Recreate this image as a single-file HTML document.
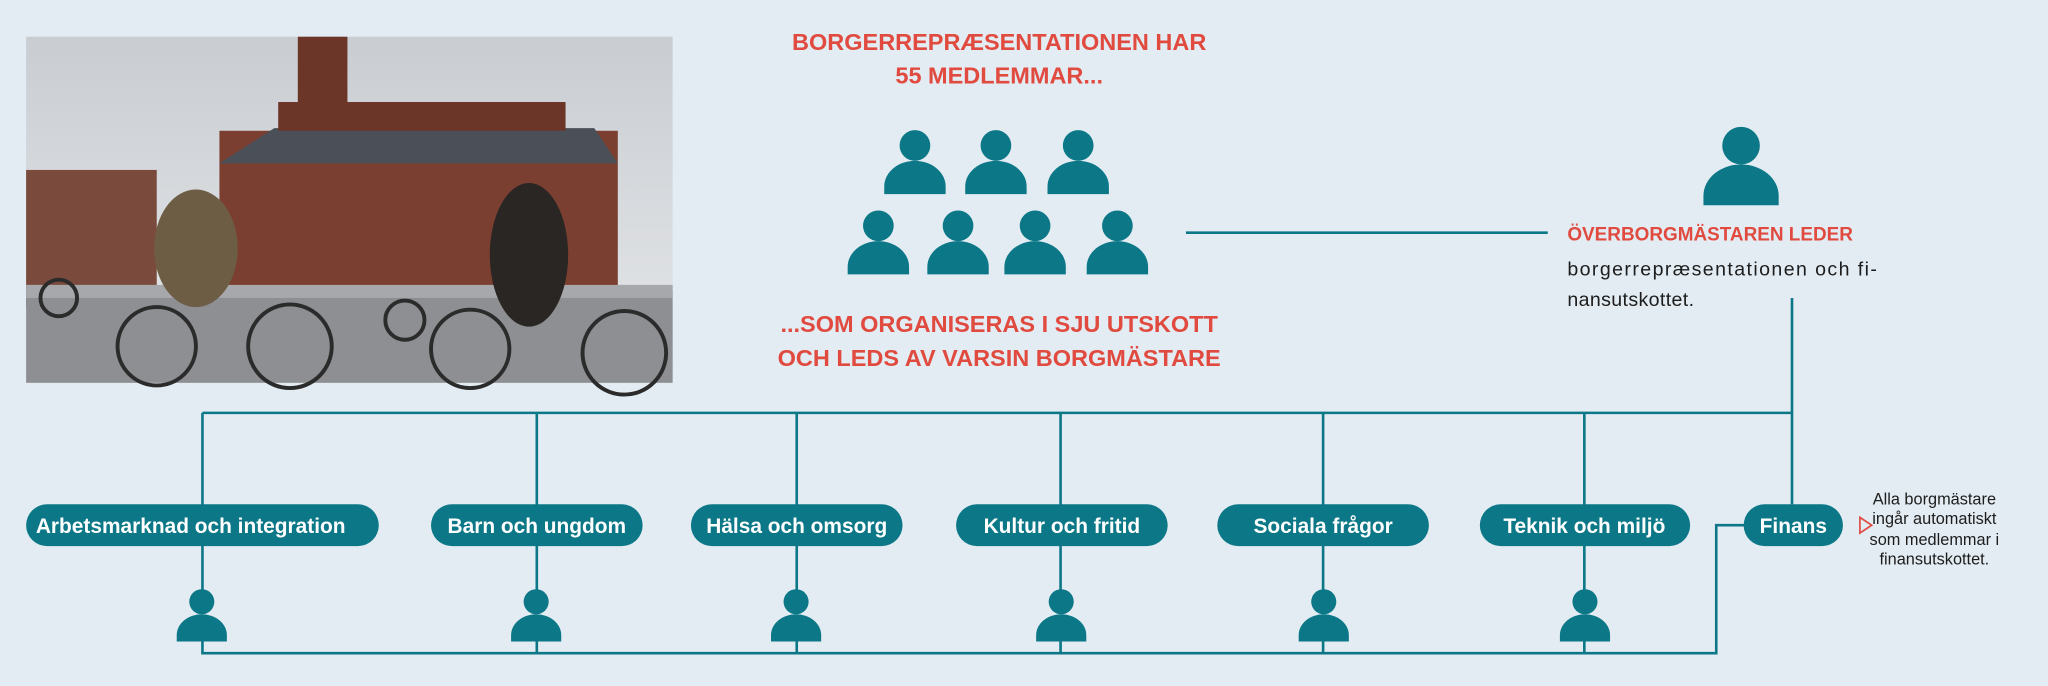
<!DOCTYPE html>
<html><head><meta charset="utf-8"><style>
html,body{margin:0;padding:0;background:#e3ecf2;}
svg{display:block;}
text{font-family:"Liberation Sans",sans-serif;}
</style></head><body>
<svg width="2048" height="686" viewBox="0 0 1568 525" xmlns="http://www.w3.org/2000/svg">
<defs>
<linearGradient id="sky" x1="0" y1="0" x2="0" y2="1"><stop offset="0" stop-color="#c9cdd2"/><stop offset="1" stop-color="#e6e8ea"/></linearGradient>
<symbol id="p" viewBox="0 0 48 50" overflow="visible"><circle cx="24" cy="12" r="12"/><path d="M0 50 V44 A24 20 0 0 1 48 44 V50 Z"/></symbol>
</defs>
<rect width="1568" height="525" fill="#e3ecf2"/>
<g>
<rect x="20" y="28" width="495" height="265" fill="url(#sky)"/>
<rect x="168" y="100" width="305" height="135" fill="#7a3f30"/>
<polygon points="168,125 210,98 455,98 473,125" fill="#4a4f58"/>
<rect x="213" y="78" width="220" height="22" fill="#6b3528"/>
<rect x="228" y="28" width="38" height="55" fill="#6b3528"/>
<rect x="20" y="130" width="100" height="105" fill="#7a4a3c"/>
<rect x="20" y="222" width="495" height="71" fill="#8d8f93"/>
<rect x="20" y="218" width="495" height="10" fill="#a6a8ab"/>
<ellipse cx="150" cy="190" rx="32" ry="45" fill="#6d5d45"/>
<ellipse cx="405" cy="195" rx="30" ry="55" fill="#2a2624"/>
<g fill="none" stroke="#2b2b2b" stroke-width="3">
<circle cx="120" cy="265" r="30"/><circle cx="222" cy="265" r="32"/>
<circle cx="360" cy="267" r="30"/><circle cx="478" cy="270" r="32"/>
<circle cx="310" cy="245" r="15"/><circle cx="45" cy="228" r="14"/>
</g>
</g>
<g fill="#e04a3f" font-weight="bold" font-size="18" text-anchor="middle">
<text x="765" y="38">BORGERREPRÆSENTATIONEN HAR</text>
<text x="765" y="64">55 MEDLEMMAR...</text>
<text x="765" y="254">...SOM ORGANISERAS I SJU UTSKOTT</text>
<text x="765" y="280">OCH LEDS AV VARSIN BORGMÄSTARE</text>
</g>
<g fill="#0b7787">
<use href="#p" x="677" y="99" width="47" height="50"/>
<use href="#p" x="739" y="99" width="47" height="50"/>
<use href="#p" x="802" y="99" width="47" height="50"/>
<use href="#p" x="649" y="161" width="47" height="49"/>
<use href="#p" x="710" y="161" width="47" height="49"/>
<use href="#p" x="769" y="161" width="47" height="49"/>
<use href="#p" x="832" y="161" width="47" height="49"/>
<use href="#p" x="1303" y="97" width="60" height="60"/>
<use href="#p" x="134" y="451" width="41" height="40"/>
<use href="#p" x="390" y="451" width="41" height="40"/>
<use href="#p" x="589" y="451" width="41" height="40"/>
<use href="#p" x="792" y="451" width="41" height="40"/>
<use href="#p" x="993" y="451" width="41" height="40"/>
<use href="#p" x="1193" y="451" width="41" height="40"/>
</g>
<g stroke="#0b7787" stroke-width="2" fill="none">
<line x1="908" y1="178" x2="1185" y2="178"/>
<line x1="1372" y1="228" x2="1372" y2="386"/>
<line x1="155" y1="316" x2="1372" y2="316"/>
<line x1="155" y1="316" x2="155" y2="460"/>
<line x1="411" y1="316" x2="411" y2="460"/>
<line x1="610" y1="316" x2="610" y2="460"/>
<line x1="812" y1="316" x2="812" y2="460"/>
<line x1="1013" y1="316" x2="1013" y2="460"/>
<line x1="1213" y1="316" x2="1213" y2="460"/>
<polyline points="155,490 155,500 1314,500 1314,402 1336,402"/>
<line x1="411" y1="490" x2="411" y2="500"/><line x1="610" y1="490" x2="610" y2="500"/>
<line x1="812" y1="490" x2="812" y2="500"/><line x1="1013" y1="490" x2="1013" y2="500"/>
<line x1="1213" y1="490" x2="1213" y2="500"/>
</g>
<g fill="#0b7787">
<rect x="20" y="386" width="270" height="32" rx="16"/>
<rect x="330" y="386" width="162" height="32" rx="16"/>
<rect x="529" y="386" width="162" height="32" rx="16"/>
<rect x="732" y="386" width="162" height="32" rx="16"/>
<rect x="932" y="386" width="162" height="32" rx="16"/>
<rect x="1133" y="386" width="161" height="32" rx="16"/>
<rect x="1335" y="386" width="76" height="32" rx="16"/>
</g>
<g fill="#fff" font-weight="bold" font-size="16" text-anchor="middle">
<text x="146" y="408">Arbetsmarknad och integration</text>
<text x="411" y="408">Barn och ungdom</text>
<text x="610" y="408">Hälsa och omsorg</text>
<text x="813" y="408">Kultur och fritid</text>
<text x="1013" y="408">Sociala frågor</text>
<text x="1213" y="408">Teknik och miljö</text>
<text x="1373" y="408">Finans</text>
</g>
<text x="1200" y="184" fill="#e04a3f" font-weight="bold" font-size="14.5">ÖVERBORGMÄSTAREN LEDER</text>
<text x="1200" y="211" fill="#1d1d1d" font-size="15" textLength="237" lengthAdjust="spacing">borgerrepræsentationen och fi-</text>
<text x="1200" y="234" fill="#1d1d1d" font-size="15" textLength="97" lengthAdjust="spacing">nansutskottet.</text>
<polygon points="1424,396 1433,402 1424,408" fill="none" stroke="#e04a3f" stroke-width="1.3"/>
<g fill="#1d1d1d" font-size="12.5" text-anchor="middle">
<text x="1481" y="386">Alla borgmästare</text>
<text x="1481" y="401">ingår automatiskt</text>
<text x="1481" y="417">som medlemmar i</text>
<text x="1481" y="432">finansutskottet.</text>
</g>
</svg>
</body></html>
